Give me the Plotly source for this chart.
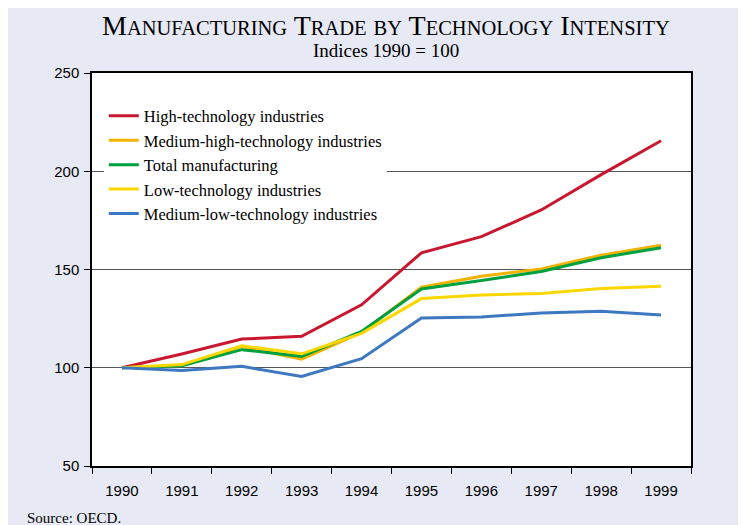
import plotly.graph_objects as go

years = ["1990", "1991", "1992", "1993", "1994", "1995", "1996", "1997", "1998", "1999"]
high_tech = [100, 107, 114.6, 116, 132, 158.5, 166.7, 180.3, 198.3, 215.5]
med_high_tech = [100, 101.2, 110.8, 104.4, 118, 141, 146.6, 150.3, 157.3, 162.4]
total_manuf = [100, 101, 109.2, 105.8, 118.5, 140.1, 144.4, 149, 156, 161.1]
low_tech = [100, 101.6, 111.2, 107.1, 117.5, 135.2, 137, 137.8, 140.3, 141.5]
med_low_tech = [100, 98.6, 100.7, 95.6, 104.6, 125.3, 125.8, 127.9, 128.7, 126.8]

series = [
    ("High-technology industries", high_tech, "#C8172F"),
    ("Medium-high-technology industries", med_high_tech, "#F2B200"),
    ("Total manufacturing", total_manuf, "#00A040"),
    ("Low-technology industries", low_tech, "#FAD700"),
    ("Medium-low-technology industries", med_low_tech, "#3D78C1"),
]

fig = go.Figure()
for i, (name, vals, col) in enumerate(series):
    fig.add_trace(go.Scatter(x=years, y=vals, name=name, mode="lines",
                             line=dict(color=col, width=3)))

def small_caps(text, big=28, small=20.5):
    out = []
    for w in text.split(" "):
        if w.lower() == "by":
            out.append(f"<span style='font-size:{small}px'>{w.upper()}</span>")
        else:
            out.append(f"<span style='font-size:{big}px'>{w[0].upper()}</span>"
                       f"<span style='font-size:{small}px'>{w[1:].upper()}</span>")
    return " ".join(out)

bg = "#E7E9F5"
serif = "Liberation Serif"
fig.update_layout(
    width=738, height=517,
    paper_bgcolor=bg, plot_bgcolor="white",
    margin=dict(l=84, r=55, t=65, b=59),
    showlegend=True,
    legend=dict(x=0.0197, y=0.935, xanchor="left", yanchor="top",
                bgcolor="white", borderwidth=0,
                font=dict(family=serif, size=16.5, color="black"),
                traceorder="normal"),
    xaxis=dict(type="category", range=[-0.5, 9.5], tickson="boundaries",
               ticks="outside", ticklen=6, tickcolor="black",
               showline=True, linecolor="black", linewidth=1.5, mirror=True,
               showgrid=False,
               tickfont=dict(family="Liberation Sans", size=15, color="black"),
               ticklabelstandoff=10),
    yaxis=dict(range=[50, 250], tickvals=[50, 100, 150, 200, 250],
               ticks="outside", ticklen=6, tickcolor="black",
               showline=True, linecolor="black", linewidth=1.5, mirror=True,
               showgrid=True, gridcolor="#555555", gridwidth=1,
               zeroline=False,
               tickfont=dict(family="Liberation Sans", size=15, color="black"),
               ticklabelstandoff=2),
    annotations=[
        dict(text=small_caps("Manufacturing Trade by Technology Intensity"),
             xref="paper", yref="paper", x=0.49, y=(466 - 25) / 393,
             xanchor="center", yanchor="middle", showarrow=False,
             font=dict(family=serif, size=28, color="black")),
        dict(text="Indices 1990 = 100",
             xref="paper", yref="paper", x=0.49, y=(466 - 50) / 393,
             xanchor="center", yanchor="middle", showarrow=False,
             font=dict(family=serif, size=19, color="black")),
        dict(text="Source: OECD.",
             xref="paper", yref="paper", x=(25 - 92) / 599, y=(466 - 518) / 393,
             xanchor="left", yanchor="middle", showarrow=False,
             font=dict(family=serif, size=15, color="black")),
    ],
)

fig.write_html("out.html")
